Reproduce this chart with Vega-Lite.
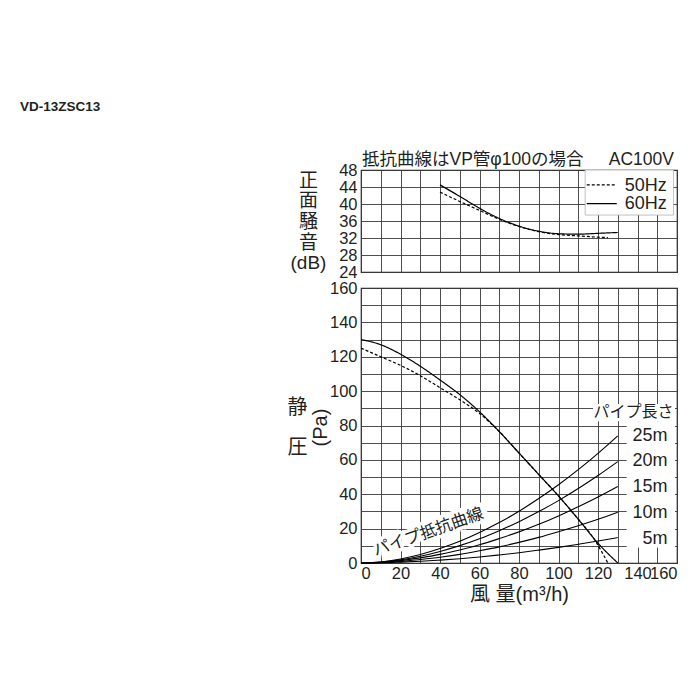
{
  "$schema": "https://vega.github.io/schema/vega-lite/v6.json",
  "background": "white",
  "padding": {"left": 20, "top": 99, "right": 0, "bottom": 0},
  "title": {
    "text": "VD-13ZSC13",
    "anchor": "start",
    "frame": "group",
    "dx": -341,
    "offset": 37,
    "fontSize": 13.5,
    "fontWeight": "bold",
    "font": "Liberation Sans",
    "color": "#231f20"
  },
  "datasets": {
    "noise": [
      {"freq": "60Hz", "flow": 40, "val": 44.5}, {"freq": "60Hz", "flow": 50, "val": 41.8},
      {"freq": "60Hz", "flow": 60, "val": 39.0}, {"freq": "60Hz", "flow": 70, "val": 36.6},
      {"freq": "60Hz", "flow": 80, "val": 34.8}, {"freq": "60Hz", "flow": 90, "val": 33.6},
      {"freq": "60Hz", "flow": 100, "val": 33.0}, {"freq": "60Hz", "flow": 110, "val": 32.9},
      {"freq": "60Hz", "flow": 120, "val": 33.1}, {"freq": "60Hz", "flow": 130, "val": 33.3},
      {"freq": "50Hz", "flow": 40, "val": 42.8}, {"freq": "50Hz", "flow": 50, "val": 40.6},
      {"freq": "50Hz", "flow": 60, "val": 38.5}, {"freq": "50Hz", "flow": 70, "val": 36.4},
      {"freq": "50Hz", "flow": 80, "val": 34.7}, {"freq": "50Hz", "flow": 90, "val": 33.5},
      {"freq": "50Hz", "flow": 100, "val": 32.8}, {"freq": "50Hz", "flow": 110, "val": 32.5},
      {"freq": "50Hz", "flow": 120, "val": 32.2}, {"freq": "50Hz", "flow": 125, "val": 32.1}
    ],
    "pressure": [
      {"freq": "60Hz", "flow": 0, "val": 130}, {"freq": "60Hz", "flow": 10, "val": 127},
      {"freq": "60Hz", "flow": 20, "val": 121.5}, {"freq": "60Hz", "flow": 30, "val": 114.5},
      {"freq": "60Hz", "flow": 40, "val": 106.5}, {"freq": "60Hz", "flow": 50, "val": 98},
      {"freq": "60Hz", "flow": 60, "val": 88}, {"freq": "60Hz", "flow": 70, "val": 76.5},
      {"freq": "60Hz", "flow": 80, "val": 64}, {"freq": "60Hz", "flow": 90, "val": 51.5},
      {"freq": "60Hz", "flow": 100, "val": 39}, {"freq": "60Hz", "flow": 110, "val": 25.5},
      {"freq": "60Hz", "flow": 120, "val": 11.5}, {"freq": "60Hz", "flow": 130, "val": 0},
      {"freq": "50Hz", "flow": 0, "val": 125}, {"freq": "50Hz", "flow": 10, "val": 120},
      {"freq": "50Hz", "flow": 20, "val": 115}, {"freq": "50Hz", "flow": 30, "val": 109},
      {"freq": "50Hz", "flow": 40, "val": 102}, {"freq": "50Hz", "flow": 50, "val": 95},
      {"freq": "50Hz", "flow": 60, "val": 87}, {"freq": "50Hz", "flow": 70, "val": 76.5},
      {"freq": "50Hz", "flow": 80, "val": 64}, {"freq": "50Hz", "flow": 90, "val": 51.5},
      {"freq": "50Hz", "flow": 100, "val": 39}, {"freq": "50Hz", "flow": 110, "val": 25.5},
      {"freq": "50Hz", "flow": 118, "val": 14}, {"freq": "50Hz", "flow": 125, "val": 0}
    ],
    "pipe": [
      {"len": "25m", "flow": 0, "val": 0}, {"len": "25m", "flow": 10, "val": 0.6}, {"len": "25m", "flow": 20, "val": 2.3},
      {"len": "25m", "flow": 30, "val": 4.9}, {"len": "25m", "flow": 40, "val": 8.4}, {"len": "25m", "flow": 50, "val": 12.6},
      {"len": "25m", "flow": 60, "val": 17.7}, {"len": "25m", "flow": 70, "val": 23.5}, {"len": "25m", "flow": 80, "val": 30.1},
      {"len": "25m", "flow": 90, "val": 37.5}, {"len": "25m", "flow": 100, "val": 45.5}, {"len": "25m", "flow": 110, "val": 54.3},
      {"len": "25m", "flow": 120, "val": 63.8}, {"len": "25m", "flow": 130, "val": 74},
      {"len": "20m", "flow": 0, "val": 0}, {"len": "20m", "flow": 10, "val": 0.5}, {"len": "20m", "flow": 20, "val": 1.8},
      {"len": "20m", "flow": 30, "val": 3.9}, {"len": "20m", "flow": 40, "val": 6.7}, {"len": "20m", "flow": 50, "val": 10.1},
      {"len": "20m", "flow": 60, "val": 14.1}, {"len": "20m", "flow": 70, "val": 18.8}, {"len": "20m", "flow": 80, "val": 24.0},
      {"len": "20m", "flow": 90, "val": 29.9}, {"len": "20m", "flow": 100, "val": 36.3}, {"len": "20m", "flow": 110, "val": 43.3},
      {"len": "20m", "flow": 120, "val": 50.9}, {"len": "20m", "flow": 130, "val": 59},
      {"len": "15m", "flow": 0, "val": 0}, {"len": "15m", "flow": 10, "val": 0.4}, {"len": "15m", "flow": 20, "val": 1.4},
      {"len": "15m", "flow": 30, "val": 3.0}, {"len": "15m", "flow": 40, "val": 5.0}, {"len": "15m", "flow": 50, "val": 7.6},
      {"len": "15m", "flow": 60, "val": 10.6}, {"len": "15m", "flow": 70, "val": 14.2}, {"len": "15m", "flow": 80, "val": 18.1},
      {"len": "15m", "flow": 90, "val": 22.5}, {"len": "15m", "flow": 100, "val": 27.4}, {"len": "15m", "flow": 110, "val": 32.7},
      {"len": "15m", "flow": 120, "val": 38.4}, {"len": "15m", "flow": 130, "val": 44.5},
      {"len": "10m", "flow": 0, "val": 0}, {"len": "10m", "flow": 10, "val": 0.3}, {"len": "10m", "flow": 20, "val": 0.9},
      {"len": "10m", "flow": 30, "val": 2.0}, {"len": "10m", "flow": 40, "val": 3.3}, {"len": "10m", "flow": 50, "val": 5.0},
      {"len": "10m", "flow": 60, "val": 7.1}, {"len": "10m", "flow": 70, "val": 9.4}, {"len": "10m", "flow": 80, "val": 12.0},
      {"len": "10m", "flow": 90, "val": 14.9}, {"len": "10m", "flow": 100, "val": 18.2}, {"len": "10m", "flow": 110, "val": 21.7},
      {"len": "10m", "flow": 120, "val": 25.4}, {"len": "10m", "flow": 130, "val": 29.5},
      {"len": "5m", "flow": 0, "val": 0}, {"len": "5m", "flow": 10, "val": 0.1}, {"len": "5m", "flow": 20, "val": 0.5},
      {"len": "5m", "flow": 30, "val": 1.0}, {"len": "5m", "flow": 40, "val": 1.7}, {"len": "5m", "flow": 50, "val": 2.5},
      {"len": "5m", "flow": 60, "val": 3.5}, {"len": "5m", "flow": 70, "val": 4.7}, {"len": "5m", "flow": 80, "val": 6.0},
      {"len": "5m", "flow": 90, "val": 7.5}, {"len": "5m", "flow": 100, "val": 9.1}, {"len": "5m", "flow": 110, "val": 10.9},
      {"len": "5m", "flow": 120, "val": 12.8}, {"len": "5m", "flow": 130, "val": 14.8}
    ],
    "legendRules": [
      {"freq": "50Hz", "flow": 114.3, "flow2": 129.5, "val": 44.5},
      {"freq": "60Hz", "flow": 114.3, "flow2": 129.5, "val": 40.1}
    ],
    "legendLabels": [
      {"label": "50Hz", "flow": 133.5, "val": 44.3},
      {"label": "60Hz", "flow": 133.5, "val": 39.9}
    ],
    "lenLabels": [
      {"label": "25m", "flow": 155.2, "val": 74},
      {"label": "20m", "flow": 155.2, "val": 59.1},
      {"label": "15m", "flow": 155.2, "val": 44},
      {"label": "10m", "flow": 155.2, "val": 28.9},
      {"label": "5m", "flow": 155.2, "val": 14}
    ],
    "boxes": [
      {"flow": 117.5, "flow2": 159, "val": 92.5, "val2": 82.5},
      {"flow": 134.5, "flow2": 159, "val": 82.5, "val2": 9}
    ]
  },
  "spacing": -3,
  "vconcat": [
    {
      "width": 316,
      "height": 102,
      "encoding": {
        "x": {
          "field": "flow",
          "type": "quantitative",
          "scale": {"domain": [0, 160], "nice": false},
          "axis": {
            "values": [0, 10, 20, 30, 40, 50, 60, 70, 80, 90, 100, 110, 120, 130, 140, 150, 160],
            "labels": false,
            "title": null,
            "grid": true
          }
        },
        "y": {
          "field": "val",
          "type": "quantitative",
          "scale": {"domain": [24, 48], "nice": false, "zero": false},
          "axis": {
            "values": [24, 28, 32, 36, 40, 44, 48],
            "grid": true,
            "title": ["正", "面", "騒", "音", "(dB)"],
            "titleAngle": 0,
            "titleAlign": "center",
            "titleBaseline": "middle",
            "titleX": -53,
            "titleY": 10,
            "titleFontSize": 19,
            "titleLineHeight": 20.7
          }
        }
      },
      "layer": [
        {
          "data": {"name": "noise"},
          "mark": {"type": "line", "interpolate": "monotone", "color": "black", "strokeWidth": 1.2},
          "encoding": {
            "strokeDash": {
              "field": "freq",
              "type": "nominal",
              "scale": {"domain": ["50Hz", "60Hz"], "range": [[3, 2], [1, 0]]},
              "legend": null
            }
          }
        },
        {
          "data": {"values": [{"flow": 113.5, "flow2": 158.2, "val": 48, "val2": 37.4}]},
          "mark": {"type": "rect", "fill": "white", "stroke": "#b0b0b0", "strokeWidth": 0.8},
          "encoding": {"x2": {"field": "flow2"}, "y2": {"field": "val2"}}
        },
        {
          "data": {"name": "legendRules"},
          "mark": {"type": "rule", "color": "black", "strokeWidth": 1.1},
          "encoding": {
            "x2": {"field": "flow2"},
            "strokeDash": {
              "field": "freq",
              "type": "nominal",
              "scale": {"domain": ["50Hz", "60Hz"], "range": [[3, 2], [1, 0]]},
              "legend": null
            }
          }
        },
        {
          "data": {"name": "legendLabels"},
          "mark": {"type": "text", "align": "left", "baseline": "middle", "fontSize": 18, "color": "#231f20"},
          "encoding": {"text": {"field": "label"}}
        },
        {
          "data": {"values": [{"label": "抵抗曲線はVP管φ100の場合", "flow": 0.5, "val": 48}]},
          "mark": {"type": "text", "align": "left", "baseline": "alphabetic", "dy": -5, "fontSize": 17.5, "color": "#231f20"},
          "encoding": {"text": {"field": "label"}}
        },
        {
          "data": {"values": [{"label": "AC100V", "flow": 160, "val": 48}]},
          "mark": {"type": "text", "align": "right", "baseline": "alphabetic", "dx": -3, "dy": -5, "fontSize": 17.5, "color": "#231f20"},
          "encoding": {"text": {"field": "label"}}
        }
      ]
    },
    {
      "width": 316,
      "height": 275,
      "resolve": {"scale": {"y": "independent"}},
      "encoding": {
        "x": {
          "field": "flow",
          "type": "quantitative",
          "scale": {"domain": [0, 160], "nice": false},
          "axis": {
            "values": [0, 10, 20, 30, 40, 50, 60, 70, 80, 90, 100, 110, 120, 130, 140, 150, 160],
            "labelExpr": "datum.value % 20 === 0 ? datum.label : ''",
            "labelOverlap": false,
            "labelPadding": 2,
            "grid": true,
            "title": "風 量(m³/h)",
            "titleFontSize": 20,
            "titlePadding": 3
          }
        }
      },
      "layer": [
        {
          "data": {"name": "pressure"},
          "mark": {"type": "line", "interpolate": "monotone", "color": "black", "strokeWidth": 1.2},
          "encoding": {
            "y": {
              "field": "val",
              "type": "quantitative",
              "scale": {"domain": [0, 160], "nice": false},
              "axis": {
                "values": [0, 10, 20, 30, 40, 50, 60, 70, 80, 90, 100, 110, 120, 130, 140, 150, 160],
                "labelExpr": "datum.value % 20 === 0 ? datum.label : ''",
                "labelOverlap": false,
                "grid": true,
                "title": "(Pa)",
                "titleAlign": "center",
                "titleBaseline": "middle",
                "titleX": -41,
                "titleY": 139,
                "titleFontSize": 20
              }
            },
            "strokeDash": {
              "field": "freq",
              "type": "nominal",
              "scale": {"domain": ["50Hz", "60Hz"], "range": [[3, 2], [1, 0]]},
              "legend": null
            }
          }
        },
        {
          "data": {"name": "pipe"},
          "mark": {"type": "line", "interpolate": "monotone", "color": "black", "strokeWidth": 1.1},
          "encoding": {
            "y": {
              "field": "val",
              "type": "quantitative",
              "scale": {"domain": [0, 160], "nice": false},
              "axis": {
                "orient": "left",
                "labels": false,
                "grid": false,
                "title": ["静", "圧"],
                "titleAngle": 0,
                "titleAlign": "center",
                "titleBaseline": "middle",
                "titleX": -64,
                "titleY": 119,
                "titleFontSize": 20,
                "titleLineHeight": 40
              }
            },
            "detail": {"field": "len"}
          }
        },
        {
          "data": {"name": "boxes"},
          "mark": {"type": "rect", "fill": "white"},
          "encoding": {
            "x2": {"field": "flow2"},
            "y": {"field": "val", "type": "quantitative", "scale": {"domain": [0, 160], "nice": false}, "axis": null},
            "y2": {"field": "val2"}
          }
        },
        {
          "data": {"name": "lenLabels"},
          "mark": {"type": "text", "align": "right", "baseline": "middle", "fontSize": 18, "color": "#231f20"},
          "encoding": {
            "y": {"field": "val", "type": "quantitative", "scale": {"domain": [0, 160], "nice": false}, "axis": null},
            "text": {"field": "label"}
          }
        },
        {
          "data": {"values": [{"label": "パイプ長さ", "flow": 158.2, "val": 87.6}]},
          "mark": {"type": "text", "align": "right", "baseline": "middle", "fontSize": 16, "color": "#231f20"},
          "encoding": {
            "y": {"field": "val", "type": "quantitative", "scale": {"domain": [0, 160], "nice": false}, "axis": null},
            "text": {"field": "label"}
          }
        },
        {
          "data": {"values": [{"label": "パイプ抵抗曲線", "flow": 34.1, "val": 17.9}]},
          "mark": {"type": "text", "align": "center", "baseline": "middle", "angle": 340.7, "fontSize": 16.5, "fill": "white", "stroke": "white", "strokeWidth": 7},
          "encoding": {
            "y": {"field": "val", "type": "quantitative", "scale": {"domain": [0, 160], "nice": false}, "axis": null},
            "text": {"field": "label"}
          }
        },
        {
          "data": {"values": [{"label": "パイプ抵抗曲線", "flow": 34.1, "val": 17.9}]},
          "mark": {"type": "text", "align": "center", "baseline": "middle", "angle": 340.7, "fontSize": 16.5, "color": "#231f20"},
          "encoding": {
            "y": {"field": "val", "type": "quantitative", "scale": {"domain": [0, 160], "nice": false}, "axis": null},
            "text": {"field": "label"}
          }
        }
      ]
    }
  ],
  "config": {
    "font": "Liberation Sans, Noto Sans CJK JP",
    "view": {"stroke": "#231f20", "strokeWidth": 1.2},
    "axis": {
      "ticks": false,
      "domain": false,
      "gridColor": "#3a3a3a",
      "gridWidth": 0.9,
      "labelFontSize": 16.5,
      "labelColor": "#231f20",
      "labelPadding": 4,
      "titleColor": "#231f20",
      "titleFontWeight": "normal"
    }
  }
}
